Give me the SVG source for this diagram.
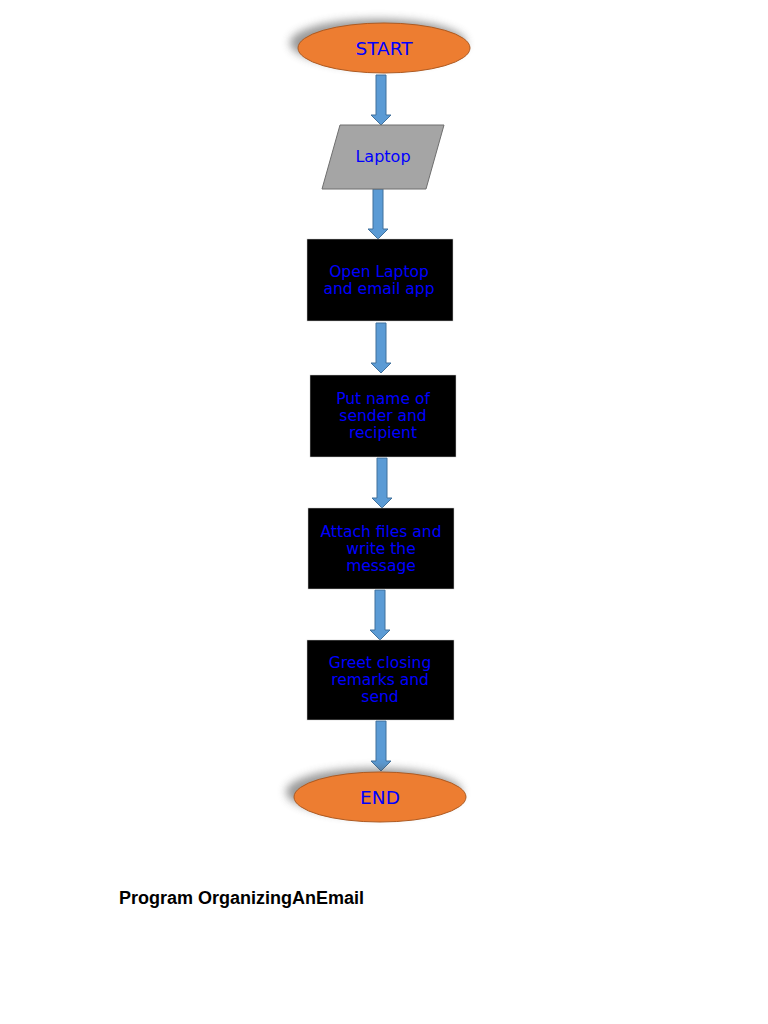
<svg xmlns="http://www.w3.org/2000/svg" width="768" height="1024" viewBox="0 0 768 1024">
<defs>
<filter id="sh" x="-30%" y="-50%" width="160%" height="200%">
<feGaussianBlur stdDeviation="4"/>
</filter>
<style>
.term{fill:#ED7D31;stroke:#AE5A21;stroke-width:1}
.shadow{fill:#555;opacity:0.6}
.box{fill:#000;stroke:#ccc;stroke-width:0.5}
.io{fill:#A5A5A5;stroke:#6F6F6F;stroke-width:1}
.arrow{fill:#5B9BD5;stroke:#41719C;stroke-width:1}
.t{font-family:"DejaVu Sans",sans-serif;font-size:15.5px;fill:#0000FF;text-anchor:middle}
.tm{font-family:"DejaVu Sans",sans-serif;font-size:16px;fill:#0000FF;text-anchor:middle}
.tl{font-family:"DejaVu Sans",sans-serif;font-size:18.5px;fill:#0000FF;text-anchor:middle}
.title{font-family:"Liberation Sans",Arial,sans-serif;font-size:18px;font-weight:bold;fill:#000}
</style>
</defs>
<rect width="768" height="1024" fill="#fff"/>
<g id="connectors">
<path class="arrow" d="M376,75 H386 V115 H391 L381,125 L371,115 H376 Z"/>
<path class="arrow" d="M373,189 H383 V229 H388 L378,239 L368,229 H373 Z"/>
<path class="arrow" d="M376,323 H386 V363 H391 L381,373 L371,363 H376 Z"/>
<path class="arrow" d="M377,458 H387 V498 H392 L382,508 L372,498 H377 Z"/>
<path class="arrow" d="M375,590 H385 V630 H390 L380,640 L370,630 H375 Z"/>
<path class="arrow" d="M376,721 H386 V761 H391 L381,771 L371,761 H376 Z"/>
</g>
<g id="start">
<ellipse class="shadow" cx="378" cy="43" rx="88" ry="24" filter="url(#sh)"/>
<ellipse class="term" cx="384" cy="48" rx="86" ry="25"/>
<text class="tl" x="384" y="55">START</text>
</g>
<g id="laptop">
<polygon class="io" points="340,125 444,125 426,189 322,189"/>
<text class="tm" x="383" y="162">Laptop</text>
</g>
<g id="open">
<rect class="box" x="307" y="239" width="146" height="82"/>
<text class="t" x="379" y="277">Open Laptop</text>
<text class="t" x="379" y="294">and email app</text>
</g>
<g id="name">
<rect class="box" x="310" y="375" width="146" height="82"/>
<text class="t" x="383" y="404">Put name of</text>
<text class="t" x="383" y="421">sender and</text>
<text class="t" x="383" y="438">recipient</text>
</g>
<g id="attach">
<rect class="box" x="308" y="508" width="146" height="81"/>
<text class="t" x="381" y="537">Attach files and</text>
<text class="t" x="381" y="554">write the</text>
<text class="t" x="381" y="571">message</text>
</g>
<g id="greet">
<rect class="box" x="307" y="640" width="147" height="80"/>
<text class="t" x="380" y="668">Greet closing</text>
<text class="t" x="380" y="685">remarks and</text>
<text class="t" x="380" y="702">send</text>
</g>
<g id="end">
<ellipse class="shadow" cx="374" cy="792" rx="88" ry="24" filter="url(#sh)"/>
<ellipse class="term" cx="380" cy="797" rx="86" ry="25"/>
<text class="tl" x="380" y="804">END</text>
</g>
<text class="title" x="119" y="904">Program OrganizingAnEmail</text>
</svg>
